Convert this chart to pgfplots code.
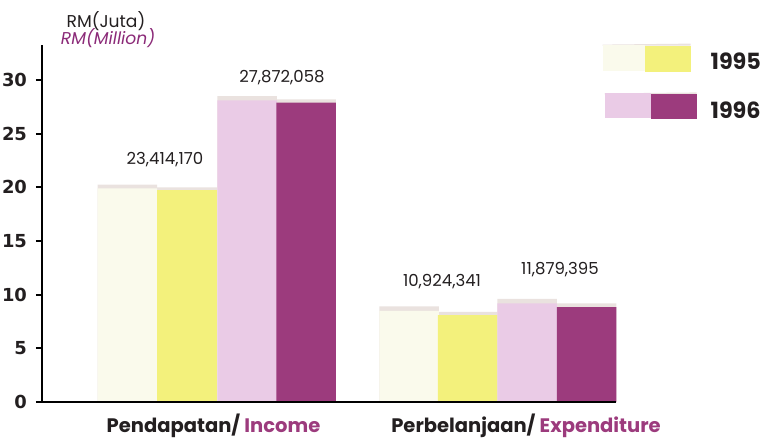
\documentclass[border=0pt]{standalone}
\usepackage{pgfplots}
\pgfplotsset{compat=1.18}
\usepackage{fontspec}
\setmainfont{Poppins}
\newfontfamily\tickfont{DejaVu Sans}
\definecolor{cream}{HTML}{FAFAEC}
\definecolor{yel}{HTML}{F3F17C}
\definecolor{pinkl}{HTML}{EACBE6}
\definecolor{mag}{HTML}{9C3B7D}
\definecolor{gtop}{HTML}{EAE2DF}
\definecolor{ink}{HTML}{231F20}
\definecolor{titlemag}{HTML}{8B2A78}

\pgfplotsset{
  face/.style={ybar, bar width=59.5, bar shift=0pt, draw=none, fill=#1},
}

\begin{document}
\begin{tikzpicture}
\begin{axis}[
  at={(0,0)}, anchor=south west,
  scale only axis, width=287bp, height=178.5bp,
  xmin=42, xmax=616, ymin=0, ymax=33.27,
  axis lines=left,
  axis line style={-, line width=1.1bp, black},
  axis on top,
  clip=false,
  ytick={0,5,...,30},
  xtick={213.5,526},
  xticklabels={{Pendapatan/ \textcolor{mag}{Income}},{Perbelanjaan/ \textcolor{mag}{Expenditure}}},
  x tick style={draw=none},
  y tick style={line width=1bp, black},
  tick align=outside,
  major tick length=3bp,
  /pgf/number format/assume math mode=true,
  yticklabel style={font=\tickfont\bfseries\fontsize{9}{9}\selectfont, text=ink, xshift=-1bp},
  xticklabel style={font=\bfseries\fontsize{9.8}{11}\selectfont, text=ink, anchor=base, yshift=-12bp},
  legend style={draw=none, fill=none, at={(rel axis cs:0.976,1.005)}, anchor=north west,
    font=\bfseries\fontsize{11.2}{12}\selectfont, text=ink, row sep=8bp, column sep=5bp,
    inner sep=0pt},
  legend cell align=left,
]
% top faces
\addplot[face=gtop, forget plot] coordinates {(127.5,20.25) (409,8.9)};
\addplot[face=gtop, forget plot] coordinates {(187,20.0) (467.5,8.4)};
\addplot[face=gtop, forget plot] coordinates {(247,28.5) (527,9.6)};
\addplot[face=gtop, forget plot] coordinates {(306,28.2) (586.5,9.2)};
% 1995
\addplot[face=cream, forget plot] coordinates {(127.5,19.9) (409,8.5)};
\addplot[face=yel, legend image code/.code={
    \fill[gtop] (0bp,9bp) -- (44bp,9.5bp) -- (44bp,8.5bp) -- (0bp,8.5bp) -- cycle;
    \fill[cream] (0bp,-4bp) rectangle (21bp,9bp);
    \fill[yel] (21bp,-4.5bp) rectangle (44bp,8.5bp);}]
  coordinates {(187,19.75) (467.5,8.1)};
\addlegendentry{1995}
% 1996
\addplot[face=pinkl, forget plot] coordinates {(247,28.1) (527,9.2)};
\addplot[face=mag, legend image code/.code={
    \fill[gtop] (1bp,9bp) -- (47bp,9.5bp) -- (47bp,8.5bp) -- (1bp,8.5bp) -- cycle;
    \fill[pinkl] (1bp,-3.5bp) rectangle (24bp,9bp);
    \fill[mag] (24bp,-4bp) rectangle (47bp,8.5bp);}]
  coordinates {(306,27.9) (586.5,8.85)};
\addlegendentry{1996}
% value labels
\node[font=\fontsize{8.3}{10}\selectfont, text=ink] at (axis cs:165,22.55) {23,414,170};
\node[font=\fontsize{8.3}{10}\selectfont, text=ink] at (axis cs:282,30.2) {27,872,058};
\node[font=\fontsize{8.3}{10}\selectfont, text=ink] at (axis cs:442,11.2) {10,924,341};
\node[font=\fontsize{8.3}{10}\selectfont, text=ink] at (axis cs:560,12.3) {11,879,395};
% unit labels
\node[font=\fontsize{8.6}{10}\selectfont, text=ink] at (axis cs:106,35.5) {RM(Juta)};
\node[font=\itshape\fontsize{8.6}{10}\selectfont, text=titlemag] at (axis cs:108,33.9) {RM(Million)};
\end{axis}
\pgfresetboundingbox
\useasboundingbox (-21bp,-20bp) rectangle (361.5bp,201bp);
\end{tikzpicture}
\end{document}
